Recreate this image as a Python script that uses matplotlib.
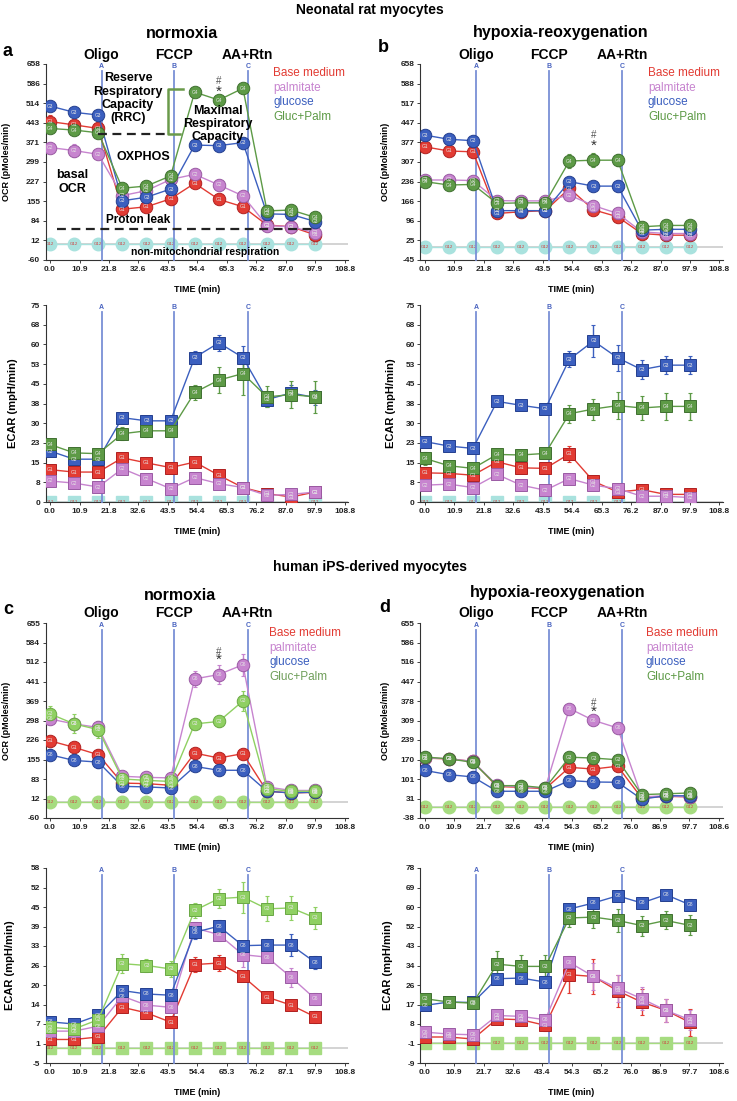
import numpy as np
import matplotlib.pyplot as plt

plt.rcParams['font.family'] = ['Liberation Sans', 'DejaVu Sans']

# ---- data ----
times = [0.0, 8.9, 17.8, 26.7, 35.6, 44.5, 53.4, 62.3, 71.2, 80.1, 89.0, 97.9]
inject_x = [19.0, 45.8, 73.0]
inject_lbl = ['A', 'B', 'C']
drugs = ['Oligo', 'FCCP', 'AA+Rtn']
groups = ['Base medium', 'palmitate', 'glucose', 'Gluc+Palm']
bg_vals = [0] * 12

xt_rat = ['0.0', '10.9', '21.8', '32.6', '43.5', '54.4', '65.3', '76.2', '87.0', '97.9', '108.8']
xt_c_ecar = ['0.0', '10.9', '21.8', '32.6', '43.5', '54.4', '65.3', '76.2', '87.1', '97.9', '108.8']
xt_d = ['0.0', '10.9', '21.7', '32.6', '43.4', '54.3', '65.2', '76.0', '86.9', '97.7', '108.6']

# rows: Base medium, palmitate, glucose, Gluc+Palm
ocr_a = [[447, 435, 422, 126, 135, 164, 221, 162, 135, 68, 62, 32],
         [352, 341, 327, 176, 194, 235, 254, 215, 175, 66, 62, 40],
         [504, 481, 471, 157, 170, 200, 361, 359, 370, 109, 107, 81],
         [422, 416, 406, 203, 211, 248, 555, 526, 569, 120, 123, 96]]
ocr_a_err = [[25, 15, 12, 8, 8, 8, 10, 8, 8, 5, 5, 5],
             [15, 25, 12, 10, 8, 8, 20, 8, 8, 5, 5, 5],
             [10, 10, 8, 8, 8, 8, 8, 8, 8, 5, 5, 5],
             [10, 10, 8, 8, 8, 8, 15, 12, 10, 8, 8, 5]]
ecar_a = [[12.3, 11.4, 11.4, 16.8, 14.9, 13.1, 15.2, 10.2, 5.5, 3.2, 1.9, 3.8],
          [8.0, 7.2, 5.7, 12.7, 8.9, 5.1, 9.3, 7.0, 5.5, 2.5, 2.9, 3.8],
          [19.4, 16.3, 16.3, 32.1, 30.9, 30.9, 55.0, 60.6, 55.0, 39.0, 41.5, 39.8],
          [21.9, 18.7, 18.4, 26.0, 27.1, 27.1, 41.7, 46.4, 48.9, 40.0, 40.9, 40.0]]
ecar_a_err = [[1, 1, 1, 1.5, 1, 1, 1, 1.5, 1, 0.8, 0.5, 0.5],
              [1, 1, 1, 1.5, 1, 1, 1, 1, 1, 0.5, 0.5, 0.5],
              [1.5, 1, 1, 1.5, 1.5, 1.5, 2.5, 3, 4.5, 3, 3, 3],
              [1.5, 1.5, 1.5, 2.5, 2.5, 2.5, 3, 5, 8, 4, 5, 6]]

ocr_b = [[361, 346, 343, 122, 128, 132, 212, 135, 110, 50, 44, 44],
         [242, 242, 240, 168, 167, 167, 188, 150, 122, 56, 50, 50],
         [403, 388, 383, 132, 132, 132, 236, 220, 220, 62, 65, 65],
         [236, 224, 226, 158, 160, 160, 310, 313, 313, 74, 79, 79]]
ocr_b_err = [[15, 10, 8, 5, 5, 5, 10, 8, 8, 5, 5, 5],
             [10, 8, 8, 5, 5, 5, 10, 8, 8, 5, 5, 5],
             [15, 8, 8, 5, 5, 5, 10, 8, 8, 5, 5, 5],
             [20, 10, 10, 8, 8, 8, 25, 25, 22, 5, 5, 5]]
ecar_b = [[11.1, 10.9, 10.2, 15.3, 13.0, 12.8, 18.3, 7.9, 3.8, 4.7, 2.9, 2.9],
          [6.4, 6.8, 5.5, 10.5, 6.4, 4.5, 8.9, 6.4, 5.1, 2.2, 2.2, 1.7],
          [23.0, 21.3, 20.4, 38.3, 36.8, 35.5, 54.3, 61.3, 54.9, 50.4, 52.1, 52.1],
          [16.6, 13.8, 12.8, 18.1, 17.9, 18.5, 33.6, 35.4, 36.7, 35.8, 36.4, 36.4]]
ecar_b_err = [[1.5, 1, 1, 1, 1, 1, 3, 1.5, 1, 1, 0.5, 0.5],
              [1, 1, 1, 1, 1, 1, 1.5, 1, 1, 0.5, 0.5, 0.5],
              [1.5, 1, 1, 1, 1, 1, 3, 6, 5, 3.5, 3.5, 3.5],
              [2.5, 1.5, 1.5, 1.5, 1.5, 1.5, 3.5, 4, 5, 4.5, 5, 5]]

ocr_c = [[223, 199, 172, 68, 66, 60, 178, 160, 176, 38, 32, 34],
         [303, 285, 272, 93, 89, 87, 450, 466, 502, 54, 41, 41],
         [172, 151, 145, 56, 54, 50, 129, 115, 115, 38, 32, 35],
         [322, 285, 264, 83, 78, 74, 285, 294, 369, 47, 38, 38]]
ocr_c_err = [[15, 12, 10, 5, 5, 5, 10, 8, 8, 5, 5, 5],
             [15, 15, 15, 8, 8, 8, 30, 35, 40, 5, 5, 5],
             [20, 15, 20, 5, 5, 5, 8, 8, 8, 5, 5, 5],
             [30, 35, 30, 8, 8, 8, 15, 20, 35, 5, 5, 5]]
ecar_c = [[2.6, 2.6, 3.4, 13.0, 11.2, 8.2, 26.8, 27.3, 23.0, 16.3, 13.7, 9.9],
          [5.3, 5.3, 6.9, 16.6, 13.7, 13.0, 38.6, 36.5, 30.0, 29.2, 22.7, 15.7],
          [8.3, 7.6, 10.4, 18.4, 17.3, 16.9, 37.2, 39.2, 32.9, 33.1, 33.1, 27.5],
          [6.5, 6.0, 9.0, 27.1, 26.5, 25.4, 44.3, 48.1, 48.6, 44.8, 45.1, 41.9]]
ecar_c_err = [[1, 1, 1, 1.5, 1.5, 1, 2.5, 2.5, 1.5, 1.5, 1.5, 2],
              [1, 1, 1, 1.5, 1.5, 1.5, 2, 2, 4, 2, 3, 2],
              [1, 1, 1, 1.5, 1.5, 1.5, 2, 2, 1.5, 2, 3.5, 2],
              [1, 1, 1, 3, 2, 2.5, 2.5, 3, 5, 4, 4, 3.5]]

ocr_d = [[175, 172, 163, 74, 71, 66, 142, 136, 146, 33, 39, 37],
         [175, 173, 163, 78, 72, 69, 351, 309, 282, 37, 41, 37],
         [131, 116, 108, 57, 57, 57, 95, 90, 89, 29, 41, 41],
         [179, 172, 160, 77, 77, 69, 178, 175, 169, 45, 48, 51]]
ocr_d_err = [[8, 8, 8, 5, 5, 5, 10, 8, 8, 5, 5, 5],
             [10, 8, 8, 5, 5, 5, 8, 8, 8, 5, 5, 5],
             [8, 8, 8, 5, 5, 5, 8, 8, 8, 5, 5, 5],
             [10, 8, 15, 5, 5, 5, 8, 8, 8, 5, 5, 5]]
ecar_d = [[2.6, 2.6, 1.7, 10.7, 10.3, 7.8, 30.4, 29.6, 23.2, 18.2, 14.5, 9.1],
          [4.8, 3.9, 3.6, 12.2, 11.8, 10.3, 35.9, 29.6, 24.4, 19.7, 14.5, 10.3],
          [16.7, 18.2, 18.0, 28.6, 28.9, 27.1, 59.7, 62.4, 65.6, 62.4, 66.1, 61.6],
          [19.7, 18.2, 17.7, 35.1, 34.1, 34.1, 55.7, 56.1, 54.6, 52.3, 54.6, 52.4]]
ecar_d_err = [[2, 2, 2, 2.5, 2.5, 2.5, 8, 8, 7, 6, 5, 6],
              [2, 2, 2, 2.5, 2.5, 2.5, 3, 6, 6, 5, 5, 4.5],
              [1, 1, 1, 1.5, 1.5, 1.5, 2, 2, 2, 2, 2, 2.5],
              [2, 2, 2, 6, 5, 5, 4, 5, 5, 4.5, 4, 4.5]]

# ---- styling ----
W, H = 737, 1101
red, pink, blue, green, lgreen = '#e23b33', '#c784cf', '#3b5fbf', '#5d9a46', '#8fd062'
edge = {red: '#b02020', pink: '#9a5aa3', blue: '#243f8f', green: '#3f7030', lgreen: '#6aa844'}
line_c = '#7a90d6'
tags_rat = ['G1', 'G2', 'G3', 'G4']
tags_ips = ['G1', 'G6', 'G8', 'G3']

fig = plt.figure(figsize=(W / 100, H / 100), dpi=100)


def px_ax(left, top, bottom, width=302.3):
    return fig.add_axes([left / W, 1 - bottom / H, width / W, (bottom - top) / H])


def ftext(x, y, s, **kw):
    fig.text(x / W, 1 - y / H, s, **kw)


def panel(ax, data, err, ylo, yhi, yticklab, xticklab, ylabel, ylab_x, colors,
          tags, bg_col, marker, drug_off=None):
    ax.set_xlim(-1.6, 110)
    ax.set_ylim(ylo, yhi)
    ax.set_yticks(np.linspace(ylo, yhi, 11))
    ax.set_yticklabels(yticklab)
    ax.set_xticks(np.linspace(0, float(xticklab[-1]), 11))
    ax.set_xticklabels(xticklab)
    for s in ['top', 'right']:
        ax.spines[s].set_visible(False)
    for s in ['left', 'bottom']:
        ax.spines[s].set_color('#333333')
        ax.spines[s].set_linewidth(0.8)
    ax.tick_params(labelsize=6, length=2, width=0.6, pad=2, colors='#222222')
    for lab in ax.get_xticklabels() + ax.get_yticklabels():
        lab.set_fontweight('bold')
    ax.set_xlabel('TIME (min)', fontsize=6.5, fontweight='bold', labelpad=9)
    ax.set_ylabel(ylabel, fontsize=6.5 if ylabel.startswith('OCR') else 8, fontweight='bold')
    ax.yaxis.set_label_coords(ylab_x, 0.5)

    ax.axhline(0, color='#cccccc', lw=1.2, zorder=1)
    ms = 9 if marker == 'o' else 8.5
    # background wells
    ax.plot(times, bg_vals, '-', color=bg_col, lw=1, marker=marker, ms=ms,
            mfc=bg_col, mec=bg_col, zorder=2)
    for t in times:
        ax.text(t, 0, 'G12', fontsize=3.2, color='#d04040', ha='center', va='center', zorder=2.5)
    for vals, e, c, tg in zip(data, err, colors, tags):
        ax.errorbar(times, vals, yerr=e, fmt='none', ecolor=c, elinewidth=1, capsize=1.5,
                    capthick=0.8, zorder=3)
        ax.plot(times, vals, '-', color=c, lw=1, marker=marker, ms=ms, mfc=c,
                mec=edge[c], mew=0.7, zorder=4)
        for t, v in zip(times, vals):
            ax.text(t, v, tg, fontsize=3.5, color='#e6e6e6', ha='center', va='center', zorder=5)
    tr = ax.get_xaxis_transform()
    for xi, lb in zip(inject_x, inject_lbl):
        ax.plot([xi, xi], [0, 0.965], color=line_c, lw=1.3, transform=tr, zorder=3.5,
                clip_on=False)
        ax.text(xi, 0.985, lb, transform=tr, fontsize=5, color='#4a64c0', fontweight='bold',
                ha='center', va='center')
    if drug_off is not None:
        for xi, dn in zip(inject_x, drugs):
            ax.text(xi, drug_off, dn, transform=tr, fontsize=10, fontweight='bold',
                    ha='center', va='center', clip_on=False)


def legend(x, y, colors, step=14.7):
    for i, (g, c) in enumerate(zip(groups, colors)):
        ftext(x, y + i * step, g, fontsize=8.5, color=c, ha='left', va='center')


rat_cols = [red, pink, blue, green]
bg_rat = '#a9e2de'
bg_ips = '#a6dc80'

lab_ocr_a = ['-60', '12', '84', '155', '227', '299', '371', '443', '514', '586', '658']
lab_ocr_b = ['-45', '25', '96', '166', '236', '307', '377', '447', '517', '588', '658']
lab_ecar_ab = ['0', '8', '15', '23', '30', '38', '45', '53', '60', '68', '75']
lab_ocr_c = ['-60', '12', '83', '155', '226', '298', '369', '441', '512', '584', '655']
lab_ocr_d = ['-38', '31', '101', '170', '239', '309', '378', '447', '516', '586', '655']
lab_ecar_c = ['-5', '1', '7', '14', '20', '26', '33', '39', '45', '52', '58']
lab_ecar_d = ['-9', '-1', '8', '17', '26', '34', '43', '52', '60', '69', '78']

# ---- panel a ----
axa = px_ax(45.7, 64, 260)
panel(axa, ocr_a, ocr_a_err, -60, 658, lab_ocr_a, xt_rat, 'OCR (pMoles/min)', -0.114,
      rat_cols, tags_rat, bg_rat, 'o', drug_off=1.046)
axa.text(28.8, 532, 'Reserve\nRespiratory\nCapacity\n(RRC)', fontsize=9, fontweight='bold',
         ha='center', va='center', linespacing=1.15, zorder=6)
axa.plot([17.7, 43.5], [403, 403], '--', color='#222222', lw=1.6, dashes=(4, 2.5), zorder=6)
axa.plot([49, 43.5, 43.5, 48], [565, 565, 403, 403], '-', color='#6a9a4a', lw=1.8, zorder=6)
axa.text(62, 438, 'Maximal\nRespiratory\nCapacity', fontsize=9, fontweight='bold',
         ha='center', va='center', linespacing=1.15, zorder=6)
axa.text(34.3, 317, 'OXPHOS', fontsize=9, fontweight='bold', ha='center', va='center', zorder=6)
axa.text(8.1, 226, 'basal\nOCR', fontsize=9, fontweight='bold', ha='center', va='center',
         linespacing=1.15, zorder=6)
axa.text(32.5, 87, 'Proton leak', fontsize=8.5, fontweight='bold', ha='center', va='center', zorder=6)
axa.plot([2.6, 97.8], [54, 54], '--', color='#222222', lw=1.6, dashes=(4, 2.5), zorder=6)
axa.text(57.2, -31, 'non-mitochondrial respiration', fontsize=7.5, fontweight='bold',
         ha='center', va='center', zorder=6)
axa.text(62.3, 596, '#', fontsize=7, color='#555555', ha='center', va='center')
axa.text(62.3, 558, '*', fontsize=11, color='#333333', ha='center', va='center')

axae = px_ax(45.7, 305, 502)
panel(axae, ecar_a, ecar_a_err, 0, 75, lab_ecar_ab, xt_rat, 'ECAR (mpH/min)', -0.092,
      rat_cols, tags_rat, bg_rat, 's')

# ---- panel b ----
axb = px_ax(420.4, 64, 260)
panel(axb, ocr_b, ocr_b_err, -45, 658, lab_ocr_b, xt_rat, 'OCR (pMoles/min)', -0.099,
      rat_cols, tags_rat, bg_rat, 'o', drug_off=1.046)
axb.text(62.3, 403, '#', fontsize=7, color='#555555', ha='center', va='center')
axb.text(62.3, 365, '*', fontsize=11, color='#333333', ha='center', va='center')

axbe = px_ax(420.4, 305, 502)
panel(axbe, ecar_b, ecar_b_err, 0, 75, lab_ecar_ab, xt_rat, 'ECAR (mpH/min)', -0.081,
      rat_cols, tags_rat, bg_rat, 's')

# ---- panel c ----
axc = px_ax(45.7, 623, 818)
panel(axc, ocr_c, ocr_c_err, -60, 655, lab_ocr_c, xt_rat, 'OCR (pMoles/min)', -0.114,
      [red, pink, blue, lgreen], tags_ips, bg_ips, 'o', drug_off=1.051)
axc.text(62.3, 550, '#', fontsize=7, color='#555555', ha='center', va='center')
axc.text(62.3, 520, '*', fontsize=11, color='#333333', ha='center', va='center')

axce = px_ax(45.7, 868, 1063)
panel(axce, ecar_c, ecar_c_err, -5, 58, lab_ecar_c, xt_c_ecar, 'ECAR (mpH/min)', -0.100,
      [red, pink, blue, lgreen], tags_ips, bg_ips, 's')

# ---- panel d ----
axd = px_ax(420.4, 623, 818)
panel(axd, ocr_d, ocr_d_err, -38, 655, lab_ocr_d, xt_d, 'OCR (pMoles/min)', -0.099,
      [red, pink, blue, green], tags_ips, bg_ips, 'o', drug_off=1.051)
axd.text(62.3, 370, '#', fontsize=7, color='#555555', ha='center', va='center')
axd.text(62.3, 338, '*', fontsize=11, color='#333333', ha='center', va='center')

axde = px_ax(420.4, 868, 1063)
panel(axde, ecar_d, ecar_d_err, -9, 78, lab_ecar_d, xt_d, 'ECAR (mpH/min)', -0.089,
      [red, pink, blue, green], tags_ips, bg_ips, 's')

# ---- titles, legends, letters ----
ftext(370, 10, 'Neonatal rat myocytes', fontsize=10, fontweight='bold', ha='center', va='center')
ftext(182, 33, 'normoxia', fontsize=11.5, fontweight='bold', ha='center', va='center')
ftext(561, 33, 'hypoxia-reoxygenation', fontsize=11.5, fontweight='bold', ha='center', va='center')
ftext(8, 51, 'a', fontsize=13, fontweight='bold', ha='center', va='center')
ftext(383, 47, 'b', fontsize=13, fontweight='bold', ha='center', va='center')
legend(273, 73, [red, pink, blue, green])
legend(648, 73, [red, pink, blue, green])

ftext(370, 567, 'human iPS-derived myocytes', fontsize=10, fontweight='bold', ha='center', va='center')
ftext(180, 595, 'normoxia', fontsize=11.5, fontweight='bold', ha='center', va='center')
ftext(558, 593, 'hypoxia-reoxygenation', fontsize=11.5, fontweight='bold', ha='center', va='center')
ftext(8, 609, 'c', fontsize=13, fontweight='bold', ha='center', va='center')
ftext(385, 607, 'd', fontsize=13, fontweight='bold', ha='center', va='center')
legend(269, 633, [red, pink, blue, '#6f9e5a'])
legend(646, 633, [red, pink, blue, green])

fig.savefig('out.png', dpi=100, facecolor='white')
